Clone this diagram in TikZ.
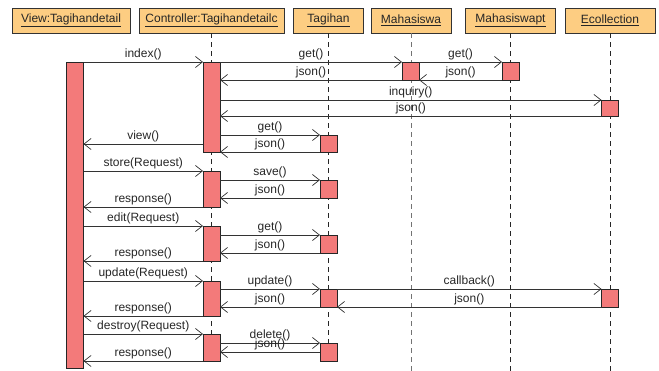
\documentclass[tikz,border=0pt]{standalone}
\usepackage{fontspec}
\setmainfont{Liberation Sans}
\usetikzlibrary{arrows.meta}
\definecolor{headfill}{RGB}{253,205,130}
\definecolor{barfill}{RGB}{243,122,122}
\begin{document}
\begin{tikzpicture}[x=1pt, y=-1pt,
    txt/.style={font=\fontsize{12}{14}\selectfont, text=black!85},
    head/.style={rectangle, draw=black!80, fill=headfill, line width=0.8pt, minimum height=25pt, inner sep=1pt, txt},
    bar/.style={rectangle, draw=black!85, fill=barfill, line width=0.8pt, minimum width=17pt, inner sep=0pt, outer sep=0pt, anchor=north},
    life/.style={black!85, line width=0.8pt, dash pattern=on 5pt off 4pt},
    msg/.style={black!80, line width=0.7pt, -{Straight Barb[length=7pt, width=11pt]}},
    lbl/.style={midway, above, inner sep=1.5pt, txt}]
        \useasboundingbox (0,0) rectangle (659,371);

        % Header
        \node[head, minimum width=118pt] (hv) at (71,20.5) {\underline{View:Tagihandetail}};
        \node[head, minimum width=145pt] (hc) at (211.5,20.5) {\underline{Controller:Tagihandetailc}};
        \node[head, minimum width=70pt] (ht) at (328.5,20.5) {\underline{Tagihan}};
        \node[head, minimum width=80pt] (hm) at (411,20.5) {\underline{Mahasiswa}};
        \node[head, minimum width=90pt] (hp) at (510.5,20.5) {\underline{Mahasiswapt}};
        \node[head, minimum width=90pt] (he) at (610,20.5) {\underline{Ecollection}};

        % Lifelines
        \coordinate (low) at (0,361);
        \coordinate (bottom) at (0,371);
        \draw[life] (hc.south) -- (hc.south |- low);
        \draw[life] (ht.south) -- (ht.south |- low);
        \draw[life, black!55] (hm.south) -- (hm.south |- bottom);
        \draw[life] (hp.south) -- (hp.south |- bottom);
        \draw[life] (he.south) -- (he.south |- bottom);

        % Activation bars
        \node[bar, minimum height=306pt] (vb) at (75,62) {};
        \node[bar, minimum height=90pt] (c1) at (211.5,62) {};
        \node[bar, minimum height=36pt] (c2) at (211.5,171) {};
        \node[bar, minimum height=35pt] (c3) at (211.5,226) {};
        \node[bar, minimum height=35pt] (c4) at (211.5,281) {};
        \node[bar, minimum height=27pt] (c5) at (211.5,334) {};
        \node[bar, minimum height=17pt] (t1) at (328.5,135) {};
        \node[bar, minimum height=18pt] (t2) at (328.5,180) {};
        \node[bar, minimum height=18pt] (t3) at (328.5,235) {};
        \node[bar, minimum height=18pt] (t4) at (328.5,289) {};
        \node[bar, minimum height=18pt] (t5) at (328.5,343) {};
        \node[bar, minimum height=18pt] (m1) at (410.5,62) {};
        \node[bar, minimum height=18pt] (p1) at (510.5,62) {};
        \node[bar, minimum height=16pt] (e1) at (610,100) {};
        \node[bar, minimum height=18pt] (e2) at (610,289) {};

        % index
        \draw[msg] (vb.east |- c1.north) -- node[lbl] {index()} (c1.north west);
        \draw[msg] (c1.north east) -- node[lbl] {get()} (m1.north west);
        \draw[msg] (m1.north east) -- node[lbl] {get()} (p1.north west);
        \draw[msg] (p1.south west) -- node[lbl] {json()} (m1.south east);
        \draw[msg] (m1.south west) -- node[lbl] {json()} (c1.east |- m1.south);
        \draw[msg] (c1.east |- e1.north) -- node[lbl] {inquiry()} (e1.north west);
        \draw[msg] (e1.south west) -- node[lbl] {json()} (c1.east |- e1.south);
        \draw[msg] (c1.east |- t1.north) -- node[lbl] {get()} (t1.north west);
        \draw[msg] (t1.south west) -- node[lbl] {json()} (c1.south east);
        \coordinate (vw) at ([yshift=8pt]c1.south west);
        \draw[msg] (vw) -- node[lbl] {view()} (vw -| vb.east);

        % store
        \draw[msg] (vb.east |- c2.north) -- node[lbl] {store(Request)} (c2.north west);
        \draw[msg] (c2.east |- t2.north) -- node[lbl] {save()} (t2.north west);
        \draw[msg] (t2.south west) -- node[lbl] {json()} (c2.east |- t2.south);
        \draw[msg] (c2.south west) -- node[lbl] {response()} (vb.east |- c2.south);

        % edit
        \draw[msg] (vb.east |- c3.north) -- node[lbl] {edit(Request)} (c3.north west);
        \draw[msg] (c3.east |- t3.north) -- node[lbl] {get()} (t3.north west);
        \draw[msg] (t3.south west) -- node[lbl] {json()} (c3.east |- t3.south);
        \draw[msg] (c3.south west) -- node[lbl] {response()} (vb.east |- c3.south);

        % update
        \draw[msg] (vb.east |- c4.north) -- node[lbl] {update(Request)} (c4.north west);
        \draw[msg] (c4.east |- t4.north) -- node[lbl] {update()} (t4.north west);
        \draw[msg] (t4.north east) -- node[lbl] {callback()} (e2.north west);
        \draw[msg] (e2.south west) -- node[lbl] {json()} (t4.south east);
        \draw[msg] (t4.south west) -- node[lbl] {json()} (c4.east |- t4.south);
        \draw[msg] (c4.south west) -- node[lbl] {response()} (vb.east |- c4.south);

        % destroy
        \draw[msg] (vb.east |- c5.north) -- node[lbl] {destroy(Request)} (c5.north west);
        \draw[msg] (c5.east |- t5.north) -- node[lbl] {delete()} (t5.north west);
        \draw[msg] (t5.west) -- node[lbl] {json()} (c5.east |- t5.west);
        \draw[msg] (c5.south west) -- node[lbl] {response()} (vb.east |- c5.south);
    \end{tikzpicture}
\end{document}
